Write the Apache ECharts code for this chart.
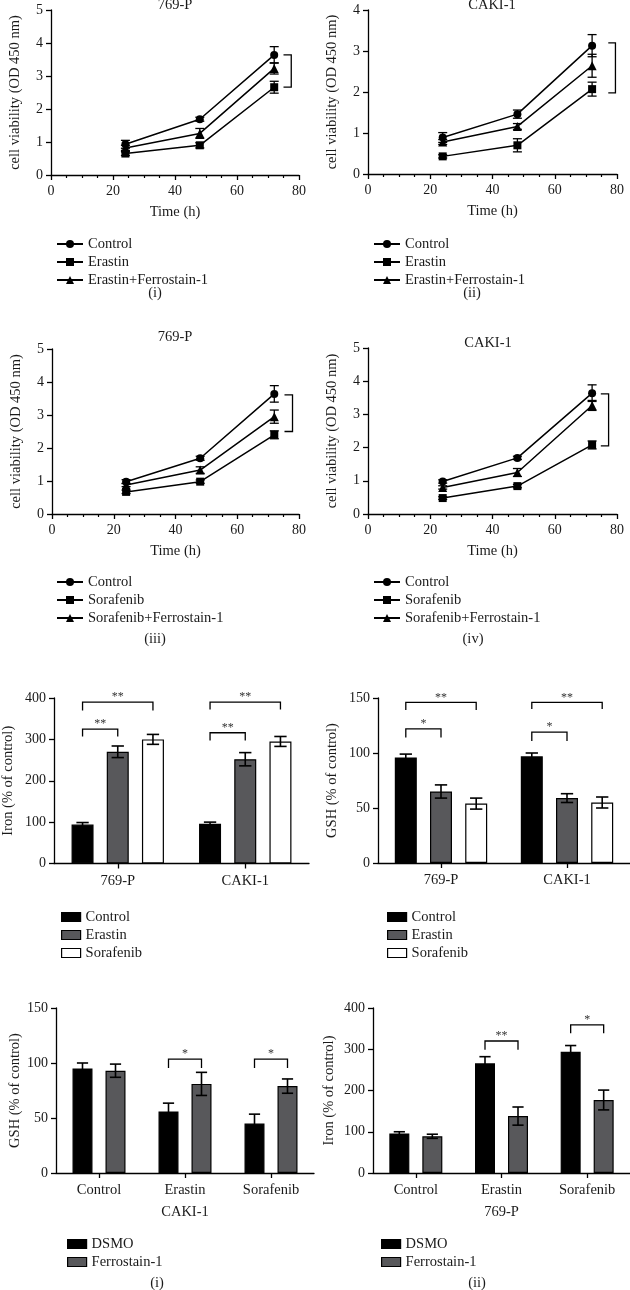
<!DOCTYPE html>
<html><head><meta charset="utf-8">
<script src="https://cdn.jsdelivr.net/npm/echarts@6/dist/echarts.min.js"></script>
<style>html,body{margin:0;padding:0;background:#fff}#c{width:630px;height:1290px}</style>
</head><body><div id="c"></div>
<script>
// ================= DATA =================
const timePoints = [24, 48, 72];
const xTicks = [0, 20, 40, 60, 80];

// (i) 769-P, Erastin
const p1Control = [0.93, 1.69, 3.64];   const p1ControlErr = [0.12, 0.06, 0.25];
const p1Drug = [0.65, 0.90, 2.66];      const p1DrugErr = [0.06, 0.08, 0.18];
const p1Rescue = [0.82, 1.26, 3.23];    const p1RescueErr = [0.08, 0.15, 0.17];
const p1Bracket = [75, 3.64, 77.5, 2.66];
// (ii) CAKI-1, Erastin
const p2Control = [0.89, 1.46, 3.13];   const p2ControlErr = [0.12, 0.10, 0.27];
const p2Drug = [0.43, 0.70, 2.07];      const p2DrugErr = [0.04, 0.16, 0.17];
const p2Rescue = [0.78, 1.16, 2.64];    const p2RescueErr = [0.06, 0.07, 0.28];
const p2Bracket = [77.2, 3.2, 79.5, 1.98];
// (iii) 769-P, Sorafenib
const p3Control = [0.98, 1.69, 3.64];   const p3ControlErr = [0.06, 0.06, 0.25];
const p3Drug = [0.67, 0.98, 2.40];      const p3DrugErr = [0.05, 0.05, 0.12];
const p3Rescue = [0.88, 1.33, 2.95];    const p3RescueErr = [0.05, 0.10, 0.20];
const p3Bracket = [75.3, 3.61, 77.9, 2.50];
// (iv) CAKI-1, Sorafenib
const p4Control = [0.98, 1.69, 3.64];   const p4ControlErr = [0.05, 0.05, 0.25];
const p4Drug = [0.48, 0.84, 2.08];      const p4DrugErr = [0.04, 0.05, 0.12];
const p4Rescue = [0.80, 1.25, 3.27];    const p4RescueErr = [0.05, 0.12, 0.15];
const p4Bracket = [74.8, 3.62, 77.3, 2.05];

// Iron / GSH by cell line
const cellLines = ['769-P', 'CAKI-1'];
const ironControl = [94, 96];     const ironControlErr = [5, 4];
const ironErastin = [270, 252];   const ironErastinErr = [14, 16];
const ironSorafenib = [300, 295]; const ironSorafenibErr = [12, 12];
// [category, yTop, fromBar, toBar, yLeg]
const ironBrackets = [[0, 390, 0, 2, 370], [0, 325, 0, 1, 307], [1, 390, 0, 2, 372], [1, 316, 0, 1, 297]];
const ironBracketLabels = ['**', '**', '**', '**'];

const gshControl = [96, 97];      const gshControlErr = [3, 3];
const gshErastin = [65, 59];      const gshErastinErr = [6, 4];
const gshSorafenib = [54, 55];    const gshSorafenibErr = [5, 5];
const gshBrackets = [[0, 146, 0, 2, 139], [0, 122, 0, 1, 114], [1, 146, 0, 2, 140], [1, 119, 0, 1, 111]];
const gshBracketLabels = ['**', '*', '**', '*'];

// Treatments with / without Ferrostain-1
const treatments = ['Control', 'Erastin', 'Sorafenib'];
const cakiGshDsmo = [95, 56, 45];   const cakiGshDsmoErr = [5, 7.5, 8.5];
const cakiGshFerro = [93, 81, 79];  const cakiGshFerroErr = [6, 10.5, 6.5];
const cakiGshBrackets = [[1, 103.6, 0, 1, 95.5], [2, 103.6, 0, 1, 95.5]];
const cakiGshBracketLabels = ['*', '*'];

const p769IronDsmo = [96, 266, 294];  const p769IronDsmoErr = [4, 16, 15];
const p769IronFerro = [89, 138, 177]; const p769IronFerroErr = [5, 22, 24];
const p769IronBrackets = [[1, 320, 0, 1, 299], [2, 359, 0, 1, 339]];
const p769IronBracketLabels = ['**', '*'];

// ================= STYLE =================
const FF = '"Liberation Serif", "Times New Roman", serif';
const TXT = '#1a1a1a';
const axisLineS = {show: true, lineStyle: {color: '#000', width: 1.3}};
const tickS = {show: true, length: 5, lineStyle: {color: '#000', width: 1.3}};
const lbl = (m, fs) => ({color: TXT, fontFamily: FF, fontSize: fs || 14, margin: m});
const nameS = {color: TXT, fontFamily: FF, fontSize: 14.5};
const legendText = {fontFamily: FF, fontSize: 14.5, color: TXT, lineHeight: 18};

const grid = [], xAxis = [], yAxis = [], series = [], legend = [];

function lineSeg(x1, y1, x2, y2, w) {
  return {type: 'line', shape: {x1, y1, x2, y2}, style: {stroke: '#000', lineWidth: w || 1.3}};
}

function errorLineSeries(gi, vals, errs) {
  return {
    type: 'custom', xAxisIndex: gi, yAxisIndex: gi, z: 2, silent: true,
    data: timePoints.map((t, i) => [t, vals[i], errs[i]]),
    renderItem(params, api) {
      const x = api.value(0), v = api.value(1), e = api.value(2);
      const a = api.coord([x, v + e]), b = api.coord([x, v - e]);
      const w = 4.5;
      return {type: 'group', children: [
        lineSeg(a[0], a[1], b[0], b[1]),
        lineSeg(a[0] - w, a[1], a[0] + w, a[1]),
        lineSeg(b[0] - w, b[1], b[0] + w, b[1])
      ]};
    }
  };
}

function lineBracket(gi, br) {
  return {
    type: 'custom', xAxisIndex: gi, yAxisIndex: gi, z: 2, silent: true,
    data: [br],
    renderItem(params, api) {
      const p1 = api.coord([api.value(0), api.value(1)]);
      const p2 = api.coord([api.value(2), api.value(1)]);
      const p3 = api.coord([api.value(2), api.value(3)]);
      const p4 = api.coord([api.value(0), api.value(3)]);
      return {type: 'polyline', shape: {points: [p1, p2, p3, p4]},
        style: {stroke: '#000', lineWidth: 1.3, fill: 'none'}};
    }
  };
}

function addLinePanel(cfg) {
  const gi = grid.length;
  grid.push(cfg.grid);
  xAxis.push({type: 'value', gridIndex: gi, min: xTicks[0], max: xTicks[xTicks.length - 1], interval: xTicks[1] - xTicks[0],
    name: 'Time (h)', nameLocation: 'middle', nameGap: 30, nameTextStyle: nameS,
    axisLine: axisLineS, axisTick: tickS,
    minorTick: {show: true, splitNumber: 4, length: 3, lineStyle: {color: '#000', width: 1.2}},
    axisLabel: lbl(9), splitLine: {show: false}, minorSplitLine: {show: false}});
  yAxis.push({type: 'value', gridIndex: gi, min: 0, max: cfg.ymax, interval: 1,
    name: 'cell viability (OD 450 nm)', nameLocation: 'middle', nameGap: 28, nameTextStyle: nameS,
    axisLine: axisLineS, axisTick: tickS, axisLabel: lbl(8), splitLine: {show: false}});
  const names = [];
  cfg.groups.forEach(g => {
    const nm = 'L' + gi + '|' + g.name;
    names.push(nm);
    series.push({type: 'line', name: nm, xAxisIndex: gi, yAxisIndex: gi,
      data: timePoints.map((t, i) => [t, g.vals[i]]),
      symbol: g.symbol, symbolSize: g.size, itemStyle: {color: '#000'},
      lineStyle: {color: '#000', width: 1.5}, z: 3, silent: true});
    series.push(errorLineSeries(gi, g.vals, g.errs));
  });
  series.push(lineBracket(gi, cfg.bracket));
  legend.push({orient: 'vertical', left: cfg.legend[0], top: cfg.legend[1], itemWidth: 26, itemHeight: 10,
    itemGap: 0, data: names, formatter: n => n.split('|')[1], textStyle: legendText, selectedMode: false});
}

function barErrSeries(gi, vals, errs, k, n, bw, gap) {
  return {
    type: 'custom', xAxisIndex: gi, yAxisIndex: gi, z: 5, silent: true,
    data: vals.map((v, i) => [i, v, errs[i]]),
    renderItem(params, api) {
      const c = api.value(0), v = api.value(1), e = api.value(2);
      const a = api.coord([c, v + e]), b = api.coord([c, v - e]);
      const x = a[0] + (k - (n - 1) / 2) * bw * (1 + gap);
      const w = bw * 0.28;
      return {type: 'group', children: [
        lineSeg(x, a[1], x, b[1], 1.6),
        lineSeg(x - w, a[1], x + w, a[1], 1.6),
        lineSeg(x - w, b[1], x + w, b[1], 1.6)
      ]};
    }
  };
}

function barBracketSeries(gi, brackets, labels, n, bw, gap) {
  return {
    type: 'custom', xAxisIndex: gi, yAxisIndex: gi, z: 6, silent: true,
    data: brackets,
    renderItem(params, api) {
      const cat = api.value(0), yTop = api.value(1), b1 = api.value(2), b2 = api.value(3), yLeg = api.value(4);
      const pT = api.coord([cat, yTop]), pL = api.coord([cat, yLeg]);
      const step = bw * (1 + gap);
      const x1 = pT[0] + (b1 - (n - 1) / 2) * step, x2 = pT[0] + (b2 - (n - 1) / 2) * step;
      return {type: 'group', children: [
        {type: 'polyline', shape: {points: [[x1, pL[1]], [x1, pT[1]], [x2, pT[1]], [x2, pL[1]]]},
          style: {stroke: '#000', lineWidth: 1.3, fill: 'none'}},
        {type: 'text', style: {text: labels[params.dataIndex], x: (x1 + x2) / 2, y: pT[1] + 1,
          align: 'center', verticalAlign: 'bottom', font: '12px ' + FF, fill: '#333'}}
      ]};
    }
  };
}

function addBarPanel(cfg) {
  const gi = grid.length;
  grid.push(cfg.grid);
  xAxis.push({type: 'category', gridIndex: gi, data: cfg.cats,
    name: cfg.xName || '', nameLocation: 'middle', nameGap: 32, nameTextStyle: nameS,
    axisLine: axisLineS, axisTick: Object.assign({alignWithLabel: true}, tickS),
    axisLabel: lbl(10, 14.5), splitLine: {show: false}});
  yAxis.push({type: 'value', gridIndex: gi, min: 0, max: cfg.ymax, interval: cfg.yint,
    name: cfg.yName, nameLocation: 'middle', nameGap: cfg.yNameGap, nameTextStyle: nameS,
    axisLine: axisLineS, axisTick: tickS, axisLabel: lbl(8), splitLine: {show: false}});
  const names = [];
  const n = cfg.groups.length;
  cfg.groups.forEach((g, k) => {
    const nm = 'B' + gi + '|' + g.name;
    names.push(nm);
    series.push({type: 'bar', name: nm, xAxisIndex: gi, yAxisIndex: gi, data: g.vals,
      barWidth: cfg.bw, barGap: (cfg.gap * 100) + '%', silent: true,
      itemStyle: {color: g.color, borderColor: '#000', borderWidth: 1.2}, z: 2});
    series.push(barErrSeries(gi, g.vals, g.errs, k, n, cfg.bw, cfg.gap));
  });
  series.push(barBracketSeries(gi, cfg.brackets, cfg.labels, n, cfg.bw, cfg.gap));
  legend.push({orient: 'vertical', left: cfg.legend[0], top: cfg.legend[1], itemWidth: 19, itemHeight: 9,
    itemGap: 0, icon: 'rect', data: names, formatter: s => s.split('|')[1], textStyle: legendText,
    itemStyle: {borderColor: '#000', borderWidth: 1.2}, selectedMode: false});
}

const BLACK = '#000000', GREY = '#58585b', WHITE = '#ffffff';

addLinePanel({grid: {left: 51, top: 10, width: 248, height: 165}, ymax: 5, legend: [51, 230], bracket: p1Bracket,
  groups: [
    {name: 'Control', vals: p1Control, errs: p1ControlErr, symbol: 'circle', size: 8},
    {name: 'Erastin', vals: p1Drug, errs: p1DrugErr, symbol: 'rect', size: 8},
    {name: 'Erastin+Ferrostain-1', vals: p1Rescue, errs: p1RescueErr, symbol: 'triangle', size: 9}]});
addLinePanel({grid: {left: 368, top: 10, width: 249, height: 164}, ymax: 4, legend: [368, 230], bracket: p2Bracket,
  groups: [
    {name: 'Control', vals: p2Control, errs: p2ControlErr, symbol: 'circle', size: 8},
    {name: 'Erastin', vals: p2Drug, errs: p2DrugErr, symbol: 'rect', size: 8},
    {name: 'Erastin+Ferrostain-1', vals: p2Rescue, errs: p2RescueErr, symbol: 'triangle', size: 9}]});
addLinePanel({grid: {left: 52, top: 349, width: 247, height: 165}, ymax: 5, legend: [51, 568], bracket: p3Bracket,
  groups: [
    {name: 'Control', vals: p3Control, errs: p3ControlErr, symbol: 'circle', size: 8},
    {name: 'Sorafenib', vals: p3Drug, errs: p3DrugErr, symbol: 'rect', size: 8},
    {name: 'Sorafenib+Ferrostain-1', vals: p3Rescue, errs: p3RescueErr, symbol: 'triangle', size: 9}]});
addLinePanel({grid: {left: 368, top: 348, width: 249, height: 166}, ymax: 5, legend: [368, 568], bracket: p4Bracket,
  groups: [
    {name: 'Control', vals: p4Control, errs: p4ControlErr, symbol: 'circle', size: 8},
    {name: 'Sorafenib', vals: p4Drug, errs: p4DrugErr, symbol: 'rect', size: 8},
    {name: 'Sorafenib+Ferrostain-1', vals: p4Rescue, errs: p4RescueErr, symbol: 'triangle', size: 9}]});

addBarPanel({grid: {left: 53, top: 698, width: 256, height: 165.5}, cats: cellLines, ymax: 400, yint: 100,
  yName: 'Iron (% of control)', yNameGap: 38, bw: 22, gap: 0.6, legend: [56, 903],
  brackets: ironBrackets, labels: ironBracketLabels,
  groups: [
    {name: 'Control', vals: ironControl, errs: ironControlErr, color: BLACK},
    {name: 'Erastin', vals: ironErastin, errs: ironErastinErr, color: GREY},
    {name: 'Sorafenib', vals: ironSorafenib, errs: ironSorafenibErr, color: WHITE}]});
addBarPanel({grid: {left: 378, top: 698, width: 254, height: 165}, cats: cellLines, ymax: 150, yint: 50,
  yName: 'GSH (% of control)', yNameGap: 38, bw: 22, gap: 0.6, legend: [382, 903],
  brackets: gshBrackets, labels: gshBracketLabels,
  groups: [
    {name: 'Control', vals: gshControl, errs: gshControlErr, color: BLACK},
    {name: 'Erastin', vals: gshErastin, errs: gshErastinErr, color: GREY},
    {name: 'Sorafenib', vals: gshSorafenib, errs: gshSorafenibErr, color: WHITE}]});
addBarPanel({grid: {left: 56, top: 1008, width: 258, height: 165}, cats: treatments, ymax: 150, yint: 50,
  yName: 'GSH (% of control)', yNameGap: 33, xName: 'CAKI-1', bw: 20, gap: 0.65, legend: [62, 1230],
  brackets: cakiGshBrackets, labels: cakiGshBracketLabels,
  groups: [
    {name: 'DSMO', vals: cakiGshDsmo, errs: cakiGshDsmoErr, color: BLACK},
    {name: 'Ferrostain-1', vals: cakiGshFerro, errs: cakiGshFerroErr, color: GREY}]});
addBarPanel({grid: {left: 373, top: 1008, width: 257, height: 165}, cats: treatments, ymax: 400, yint: 100,
  yName: 'Iron (% of control)', yNameGap: 36, xName: '769-P', bw: 20, gap: 0.65, legend: [376, 1230],
  brackets: p769IronBrackets, labels: p769IronBracketLabels,
  groups: [
    {name: 'DSMO', vals: p769IronDsmo, errs: p769IronDsmoErr, color: BLACK},
    {name: 'Ferrostain-1', vals: p769IronFerro, errs: p769IronFerroErr, color: GREY}]});

function txt(text, x, y) {
  return {type: 'text', silent: true, style: {text, x, y, align: 'center', verticalAlign: 'middle',
    font: '14.5px ' + FF, fill: TXT}};
}

const chart = echarts.init(document.getElementById('c'), null, {renderer: 'canvas'});
chart.setOption({
  animation: false,
  backgroundColor: '#fff',
  grid, xAxis, yAxis, series, legend,
  graphic: [
    txt('769-P', 175, 5), txt('CAKI-1', 492, 5),
    txt('769-P', 175, 337), txt('CAKI-1', 488, 343),
    txt('(i)', 155, 293), txt('(ii)', 472, 293),
    txt('(iii)', 155, 639), txt('(iv)', 473, 639),
    txt('(i)', 157, 1283), txt('(ii)', 477, 1283)
  ]
});
</script></body></html>
